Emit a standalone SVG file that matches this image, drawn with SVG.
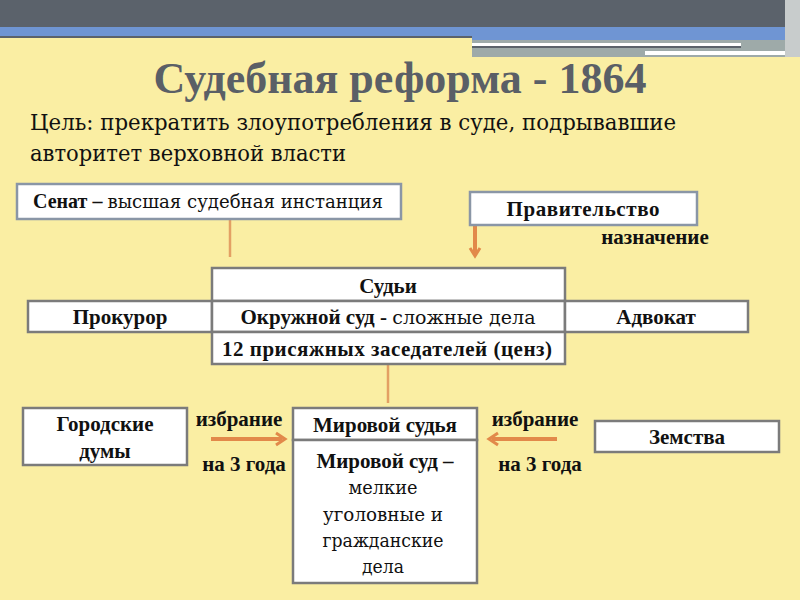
<svg xmlns="http://www.w3.org/2000/svg" width="800" height="600" viewBox="0 0 800 600">
<defs>
<style>
.b{fill:#fff;stroke:#7b7b7b;stroke-width:2.5}
.bb{fill:#fff;stroke:#8a96a6;stroke-width:2.5}
text{font-family:"Liberation Serif","Times New Roman",serif;fill:#111}
.t{font-weight:bold;font-size:21px;text-anchor:middle}
.r{font-family:"DejaVu Serif",serif;font-size:19px;text-anchor:middle}
.n{font-family:"DejaVu Serif",serif;font-weight:normal}
.ln{stroke:#e3a064;stroke-width:2.5;fill:none}
.ar{stroke:#e2894a;stroke-width:4;fill:none}
.ah{stroke:#e2894a;stroke-width:3;fill:none;stroke-linejoin:miter}
</style>
</defs>
<rect width="800" height="600" fill="#faeea3"/>
<g id="header">
<rect x="0" y="0" width="800" height="27" fill="#5b626b"/>
<rect x="0" y="27" width="800" height="9" fill="#6f95d3"/>
<rect x="0" y="36" width="472" height="2" fill="#5b626b"/>
<rect x="472" y="36" width="328" height="4" fill="#6f95d3"/>
<rect x="472" y="40" width="318" height="17" fill="#9eaaa9"/>
<rect x="472" y="43" width="269" height="3" fill="#ffffff"/>
<rect x="472" y="46" width="269" height="2" fill="#5b626b"/>
<rect x="645" y="51" width="140" height="4" fill="#ffffff"/>
<rect x="785" y="0" width="15" height="57" fill="#c8cccc"/>
</g>
<g id="title">
<text x="400" y="93" style="font-size:44px;font-weight:bold;text-anchor:middle;fill:#5a5f66">Судебная реформа - 1864</text>
<text x="30" y="130" class="n" style="font-size:23px" textLength="646" lengthAdjust="spacingAndGlyphs">Цель:  прекратить злоупотребления в суде, подрывавшие</text>
<text x="30" y="161" class="n" style="font-size:23px" textLength="316" lengthAdjust="spacingAndGlyphs">авторитет верховной власти</text>
</g>
<g id="connectors">
<line class="ln" x1="230" y1="220" x2="230" y2="257"/>
<line class="ln" x1="388" y1="365" x2="388" y2="403"/>
<line class="ar" x1="475" y1="226" x2="475" y2="253"/>
<polyline class="ah" points="470,248 475,256 480,248"/>
<line class="ar" x1="211" y1="439" x2="282" y2="439"/>
<polyline class="ah" points="276,433 285,439 276,445"/>
<line class="ar" x1="557" y1="439" x2="492" y2="439"/>
<polyline class="ah" points="498,433 489,439 498,445"/>
</g>
<g id="senat">
<rect class="bb" x="17" y="184" width="384" height="35"/>
<text class="t" x="208" y="208" textLength="350" lengthAdjust="spacingAndGlyphs">Сенат – <tspan class="n" style="font-size:19px">высшая судебная инстанция</tspan></text>
</g>
<g id="pravitelstvo">
<rect class="bb" x="470" y="192" width="227" height="33"/>
<text class="t" x="583" y="216" textLength="153" lengthAdjust="spacing">Правительство</text>
</g>
<text class="t" x="655" y="244">назначение</text>
<g id="sudi">
<rect class="b" x="212" y="268" width="353" height="33"/>
<text class="t" x="388" y="293">Судьи</text>
</g>
<g id="prokuror">
<rect class="b" x="28" y="301" width="184" height="31"/>
<text class="t" x="120" y="324">Прокурор</text>
</g>
<g id="okruzhnoy">
<rect class="b" x="212" y="301" width="353" height="31"/>
<text class="t" x="388" y="324" textLength="295" lengthAdjust="spacingAndGlyphs">Окружной суд - <tspan class="n" style="font-size:19px">сложные дела</tspan></text>
</g>
<g id="advokat">
<rect class="b" x="565" y="301" width="183" height="31"/>
<text class="t" x="656" y="324">Адвокат</text>
</g>
<g id="prisyazhnye">
<rect class="b" x="212" y="332" width="353" height="32"/>
<text class="t" x="387" y="356" textLength="330" lengthAdjust="spacing">12 присяжных заседателей (ценз)</text>
</g>
<g id="gorodskie">
<rect class="b" x="23" y="408" width="164" height="57"/>
<text class="t" x="105" y="431">Городские</text>
<text class="t" x="105" y="458">думы</text>
</g>
<text class="t" x="239" y="426">избрание</text>
<text class="t" x="244" y="471">на 3 года</text>
<text class="t" x="535" y="426">избрание</text>
<text class="t" x="540" y="471">на 3 года</text>
<g id="mirovoy-sudya">
<rect class="b" x="293" y="408" width="184" height="32"/>
<text class="t" x="385" y="432">Мировой судья</text>
</g>
<g id="mirovoy-sud">
<rect class="b" x="293" y="440" width="184" height="143"/>
<text class="t" x="385" y="468">Мировой суд –</text>
<text class="r" x="383" y="494" textLength="69" lengthAdjust="spacingAndGlyphs">мелкие</text>
<text class="r" x="383" y="521" textLength="120" lengthAdjust="spacingAndGlyphs">уголовные и</text>
<text class="r" x="383" y="547" textLength="121" lengthAdjust="spacingAndGlyphs">гражданские</text>
<text class="r" x="383" y="573" textLength="42" lengthAdjust="spacingAndGlyphs">дела</text>
</g>
<g id="zemstva">
<rect class="b" x="595" y="421" width="184" height="31"/>
<text class="t" x="687" y="444">Земства</text>
</g>
</svg>
